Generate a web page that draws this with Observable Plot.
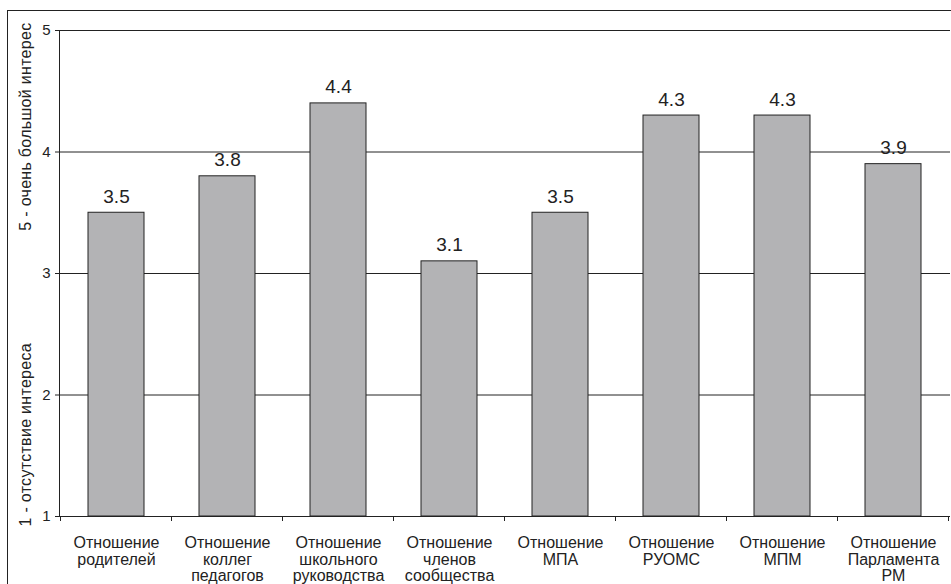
<!DOCTYPE html>
<html>
<head>
<meta charset="utf-8">
<script src="https://cdn.jsdelivr.net/npm/d3@7"></script>
<script src="https://cdn.jsdelivr.net/npm/@observablehq/plot@0.6"></script>
<style>
  html, body { margin: 0; padding: 0; background: #fff; }
  #wrap { position: relative; width: 951px; height: 584px; overflow: hidden; }
  #edge { position: absolute; left: 7px; top: 10px; width: 2000px; height: 2000px;
          border-left: 1.5px solid #222; border-top: 1.5px solid #222; pointer-events: none; }
  svg { font-family: "Liberation Sans", Arial, sans-serif; }
</style>
</head>
<body>
<div id="wrap"><div id="edge"></div></div>
<script>
// Attitude categories (multi-line labels) and mean interest scores
const categories = [
  "Отношение\nродителей",
  "Отношение\nколлег\nпедагогов",
  "Отношение\nшкольного\nруководства",
  "Отношение\nчленов\nсообщества",
  "Отношение\nМПА",
  "Отношение\nРУОМС",
  "Отношение\nМПМ",
  "Отношение\nПарламента\nРМ"
];
const scores = [3.5, 3.8, 4.4, 3.1, 3.5, 4.3, 4.3, 3.9];
const yTicks = [1, 2, 3, 4, 5];
const yTitleTop = "5 - очень большой интерес";
const yTitleBottom = "1 - отсутствие интереса";

const data = categories.map((c, i) => ({category: c, score: scores[i]}));

// Tick marks at the band boundaries of the category axis
function boundaryTicks(index, scales, values, dims) {
  const x = scales.x;
  const step = x.step();
  const pad = (step - x.bandwidth()) / 2;
  const y0 = dims.height - dims.marginBottom;
  const g = d3.create("svg:g").attr("stroke", "#222").attr("stroke-width", 1);
  const edges = categories.map(c => x(c) - pad);
  edges.push(x(categories[categories.length - 1]) + x.bandwidth() + pad);
  for (const e of edges) {
    g.append("line").attr("x1", e).attr("x2", e).attr("y1", y0).attr("y2", y0 + 5);
  }
  return g.node();
}

const chart = Plot.plot({
  width: 951,
  height: 584,
  marginLeft: 59,
  marginRight: 1,
  marginTop: 30,
  marginBottom: 68,
  style: {fontFamily: "'Liberation Sans', Arial, sans-serif", background: "transparent"},
  x: {domain: categories, paddingInner: 0.5, paddingOuter: 0.25, label: null},
  y: {domain: [1, 5], label: null},
  marks: [
    Plot.ruleY(yTicks.slice(1), {y: d => d, stroke: "#222", strokeWidth: 1}),
    Plot.barY(data, {x: "category", y1: () => 1, y2: "score", fill: "#b3b3b5", stroke: "#222", strokeWidth: 1}),
    Plot.text(data, {x: "category", y: "score", text: d => d.score.toFixed(1), dy: -10, lineAnchor: "bottom", fontSize: 19, fill: "#222"}),
    Plot.axisY({ticks: yTicks, tickFormat: d => String(d), tickSize: 4, tickPadding: 5, fontSize: 15, stroke: "#222", color: "#222"}),
    Plot.axisX({tickSize: 0, tickPadding: 19, fontSize: 16, lineHeight: 1.06, color: "#222"}),
    Plot.ruleY([1], {stroke: "#222", strokeWidth: 1}),
    Plot.frame({anchor: "left", stroke: "#222"}),
    boundaryTicks,
    Plot.text([yTitleTop], {frameAnchor: "top-left", text: d => d, rotate: -90, textAnchor: "end", lineAnchor: "middle", dx: -34, dy: -8, fontSize: 16, fill: "#222"}),
    Plot.text([yTitleBottom], {frameAnchor: "bottom-left", text: d => d, rotate: -90, textAnchor: "start", lineAnchor: "middle", dx: -34, dy: 10, fontSize: 16, fill: "#222"})
  ]
});

// Slightly widened lettering for the two axis titles
chart.querySelectorAll("text").forEach(t => {
  if (t.textContent === yTitleTop || t.textContent === yTitleBottom) t.setAttribute("letter-spacing", "0.3");
});

document.getElementById("wrap").prepend(chart);
</script>
</body>
</html>
